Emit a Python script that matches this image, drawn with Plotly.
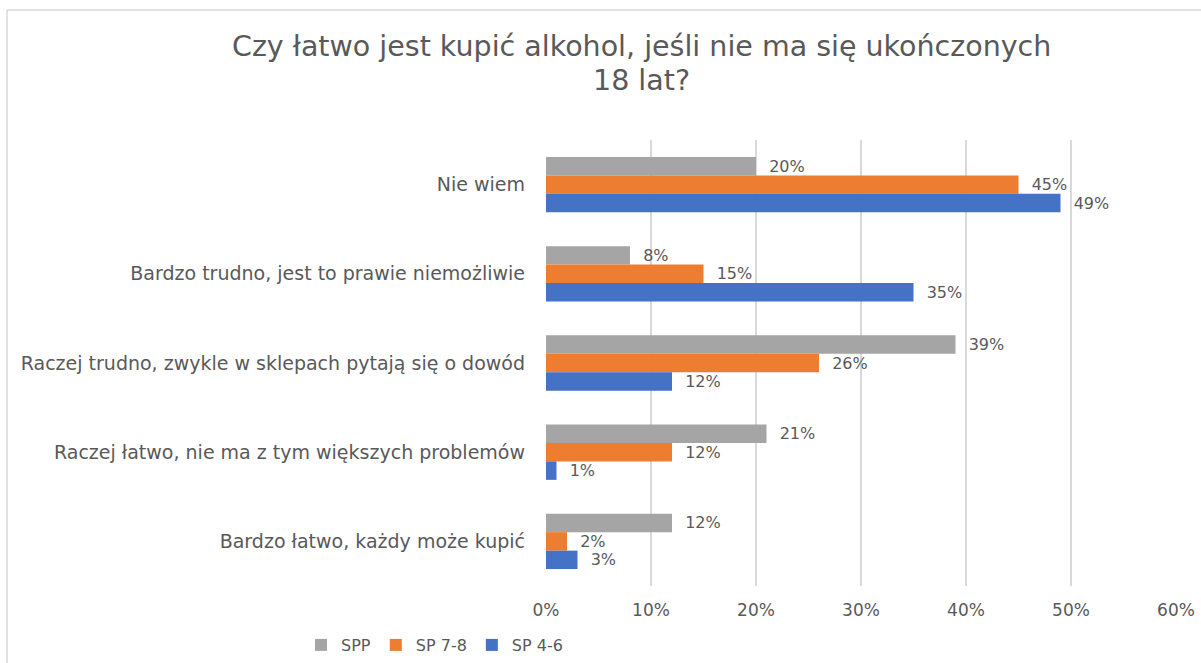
import plotly.graph_objects as go

categories = [
    "Nie wiem",
    "Bardzo trudno, jest to prawie niemożliwie",
    "Raczej trudno, zwykle w sklepach pytają się o dowód",
    "Raczej łatwo, nie ma z tym większych problemów",
    "Bardzo łatwo, każdy może kupić",
]
series_names = ["SPP", "SP 7-8", "SP 4-6"]
spp = [0.20, 0.08, 0.39, 0.21, 0.12]
sp78 = [0.45, 0.15, 0.26, 0.12, 0.02]
sp46 = [0.49, 0.35, 0.12, 0.01, 0.03]
x_ticks = [0, 0.1, 0.2, 0.3, 0.4, 0.5, 0.6]
x_tick_labels = ["0%", "10%", "20%", "30%", "40%", "50%", "60%"]
title_line1 = "Czy łatwo jest kupić alkohol, jeśli nie ma się ukończonych"
title_line2 = "18 lat?"

colors = ["#A5A5A5", "#ED7D31", "#4472C4"]
FONT = "DejaVu Sans"
GRAY = "#595959"

fig = go.Figure()
for name, vals, col in zip(series_names, [spp, sp78, sp46], colors):
    fig.add_trace(go.Bar(
        y=categories, x=vals, name=name, orientation="h",
        marker=dict(color=col, line=dict(width=0)),
        text=["  " + f"{round(v*100)}%" for v in vals],
        textposition="outside", constraintext="none", cliponaxis=False,
        textfont=dict(family=FONT, size=16, color=GRAY),
        hoverinfo="skip",
    ))

L, R, T, B = 546, 25, 140, 77
W, H = 1201, 663
pw, ph = W - L - R, H - T - B

def px_to_paper_x(px):
    return (px - L) / pw

def py_to_paper_y(py):
    return (H - B - py) / ph

fig.update_layout(
    width=W, height=H,
    margin=dict(l=L, r=R, t=T, b=B),
    paper_bgcolor="white", plot_bgcolor="white",
    barmode="group", bargap=0.38, bargroupgap=0,
    xaxis=dict(range=[0, 0.6], tickvals=x_ticks, ticktext=x_tick_labels,
               showgrid=True, gridcolor="#D9D9D9", gridwidth=1.5, zeroline=False,
               showline=False, ticks="", tickfont=dict(family=FONT, size=17, color=GRAY),
               ticklabelstandoff=12, automargin=False),
    yaxis=dict(autorange="reversed", showgrid=False, showline=False, ticks="",
               tickfont=dict(family=FONT, size=19, color=GRAY), ticklabelstandoff=20,
               automargin=False),
    legend=dict(orientation="h", x=px_to_paper_x(301), xanchor="left",
                yref="container", y=1 - 645 / H, yanchor="middle",
                font=dict(family=FONT, size=16, color=GRAY), traceorder="normal",
                itemwidth=30),
    showlegend=True,
    annotations=[
        dict(text=title_line1, xref="paper", yref="paper",
             x=px_to_paper_x(641), y=py_to_paper_y(46), xanchor="center", yanchor="middle",
             showarrow=False, font=dict(family=FONT, size=28.5, color=GRAY)),
        dict(text=title_line2, xref="paper", yref="paper",
             x=px_to_paper_x(641), y=py_to_paper_y(80), xanchor="center", yanchor="middle",
             showarrow=False, font=dict(family=FONT, size=28.5, color=GRAY)),
    ],
    shapes=[
        dict(type="line", xref="paper", yref="paper",
             x0=px_to_paper_x(7), x1=px_to_paper_x(1201),
             y0=py_to_paper_y(10), y1=py_to_paper_y(10),
             line=dict(color="#D9D9D9", width=1.5)),
        dict(type="line", xref="paper", yref="paper",
             x0=px_to_paper_x(7), x1=px_to_paper_x(7),
             y0=py_to_paper_y(10), y1=py_to_paper_y(663),
             line=dict(color="#D9D9D9", width=1.5)),
    ],
)

fig.write_html("out.html", config={"displayModeBar": False},
               post_script="document.body.style.margin='0';document.body.style.overflow='hidden';")
